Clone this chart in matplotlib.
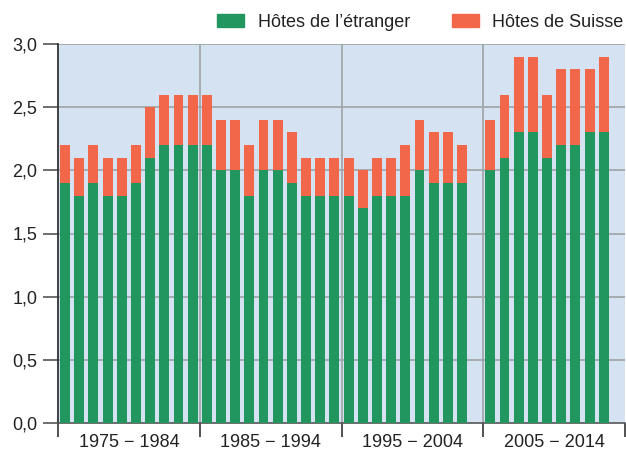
import numpy as np
from matplotlib import pyplot as plt
from matplotlib.patches import Patch

plt.rcParams['font.family'] = ['Liberation Sans', 'DejaVu Sans']

# nuitées (millions) par année ; 2004 et 2014 sans valeur
years = list(range(1975, 2015))
foreign = [1.9, 1.8, 1.9, 1.8, 1.8, 1.9, 2.1, 2.2, 2.2, 2.2,
           2.2, 2.0, 2.0, 1.8, 2.0, 2.0, 1.9, 1.8, 1.8, 1.8,
           1.8, 1.7, 1.8, 1.8, 1.8, 2.0, 1.9, 1.9, 1.9, np.nan,
           2.0, 2.1, 2.3, 2.3, 2.1, 2.2, 2.2, 2.3, 2.3, np.nan]
swiss = [0.3, 0.3, 0.3, 0.3, 0.3, 0.3, 0.4, 0.4, 0.4, 0.4,
         0.4, 0.4, 0.4, 0.4, 0.4, 0.4, 0.4, 0.3, 0.3, 0.3,
         0.3, 0.3, 0.3, 0.3, 0.4, 0.4, 0.4, 0.4, 0.3, np.nan,
         0.4, 0.5, 0.6, 0.6, 0.5, 0.6, 0.6, 0.5, 0.6, np.nan]
periods = ['1975 − 1984', '1985 − 1994', '1995 − 2004', '2005 − 2014']
series_names = ['Hôtes de l’étranger', 'Hôtes de Suisse']

green = '#21965f'
orange = '#f26649'
grid_c = '#a3a7ab'
fs = 13

fig = plt.figure(figsize=(6.26, 4.53), dpi=100)
ax = fig.add_axes([58 / 626, 30 / 453, 567 / 626, 379 / 453])
ax.set_facecolor('#d4e2f2')

x = np.arange(len(years)) + 0.5
f = np.array(foreign)
s = np.array(swiss)
ax.bar(x, f, width=0.7, color=green, zorder=3)
ax.bar(x, s, width=0.7, bottom=f, color=orange, zorder=3)

ax.set_xlim(0, len(years))
ax.set_ylim(0, 3.0)
yt = np.arange(0, 3.01, 0.5)
ax.set_yticks(yt)
ax.set_yticklabels([f'{v:.1f}'.replace('.', ',') for v in yt], fontsize=fs, color='#222222')
ax.set_xticks([0, 10, 20, 30, 40])
ax.set_xticklabels([])
ax.set_xticks([5, 15, 25, 35], minor=True)
ax.set_xticklabels(periods, minor=True, fontsize=fs, color='#222222')
ax.tick_params(axis='x', which='minor', length=0, pad=8)
ax.tick_params(axis='x', which='major', length=10, width=1.2, color='#333333')
ax.tick_params(axis='y', length=11, width=1.2, color='#555555', pad=4)

for v in yt[1:]:
    ax.axhline(v, color=grid_c, lw=1.3, zorder=1)
for v in [10, 20, 30]:
    ax.axvline(v, color=grid_c, lw=1.3, zorder=1)

for side in ['top', 'right']:
    ax.spines[side].set_visible(False)
ax.spines['left'].set_color('#333333')
ax.spines['left'].set_linewidth(1.3)
ax.spines['bottom'].set_color('#555555')
ax.spines['bottom'].set_linewidth(1.2)

handles = [Patch(color=green), Patch(color=orange)]
fig.legend(handles, series_names, loc='upper right', bbox_to_anchor=(1.022, 1.005),
           ncol=2, frameon=False, fontsize=fs, handlelength=1.5, handleheight=0.75,
           columnspacing=2.3, handletextpad=0.75, labelcolor='#222222')

fig.savefig('out.png', dpi=100)
